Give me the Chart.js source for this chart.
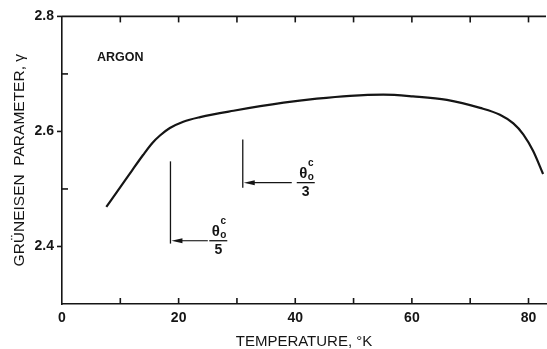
<!DOCTYPE html>
<html>
<head>
<meta charset="utf-8">
<script src="https://cdn.jsdelivr.net/npm/chart.js@4/dist/chart.umd.min.js"></script>
<style>
  html, body { margin: 0; padding: 0; background: #fff; }
  #wrap { width: 547px; height: 349px; }
</style>
</head>
<body>
<div id="wrap"><canvas id="gruneisenChart"></canvas></div>
<script>
// Argon - Grüneisen parameter vs temperature
const temperature = [7.6, 10.0, 12.0, 13.9, 15.5, 16.8, 18.5, 20.8, 23.7, 29.4, 38.0, 43.7, 49.4, 55.1, 60.2, 66.0, 71.7, 75.1, 77.4, 79.1, 80.8, 82.5];
const gamma = [2.469, 2.503, 2.532, 2.559, 2.580, 2.593, 2.606, 2.617, 2.625, 2.636, 2.650, 2.657, 2.662, 2.664, 2.661, 2.655, 2.641, 2.629, 2.614, 2.595, 2.566, 2.526];

const xTickLabels = [0, 20, 40, 60, 80];
const xTickMarks = [10, 20, 30, 40, 50, 60, 70, 80];
const yTickLabels = [2.4, 2.6, 2.8];
const yTickMarksIn = [2.5, 2.7];

// theta_0^c / n markers : temperature of the vertical line, divisor
const thetaMarks = [
    { t: 18.6, n: '5', yTop: 2.548, yBot: 2.405, arrowY: 2.410, arrowTo: 25.0, textX: 26.8 },
    { t: 31.0, n: '3', yTop: 2.586, yBot: 2.502, arrowY: 2.511, arrowTo: 39.4, textX: 41.8 }
];

const ink = '#151515';

const points = temperature.map((t, i) => ({ x: t, y: gamma[i] }));

// ticks pointing inwards, top frame line, and the annotations
const framePlugin = {
    id: 'frame',
    afterDraw(chart) {
        const { ctx, chartArea: a, scales: { x, y } } = chart;
        const seg = (x1, y1, x2, y2) => { ctx.beginPath(); ctx.moveTo(x1, y1); ctx.lineTo(x2, y2); ctx.stroke(); };
        ctx.save();
        ctx.strokeStyle = ink;
        ctx.fillStyle = ink;
        ctx.lineWidth = 1.6;

        seg(a.left, a.top, a.right, a.top);

        xTickMarks.forEach(v => {
            const px = x.getPixelForValue(v);
            seg(px, a.top, px, a.top + 6);
            seg(px, a.bottom, px, a.bottom - 6);
        });
        yTickLabels.forEach(v => {
            const py = y.getPixelForValue(v);
            seg(a.left - 5, py, a.left, py);
        });
        yTickMarksIn.forEach(v => {
            const py = y.getPixelForValue(v);
            seg(a.left, py, a.left + 6, py);
        });

        // ARGON label
        ctx.font = 'bold 12.5px "Liberation Sans"';
        ctx.textAlign = 'left';
        ctx.textBaseline = 'middle';
        ctx.fillText('ARGON', x.getPixelForValue(6.0), y.getPixelForValue(2.729));

        thetaMarks.forEach(m => {
            const lx = x.getPixelForValue(m.t);
            ctx.lineWidth = 1.3;
            seg(lx, y.getPixelForValue(m.yTop), lx, y.getPixelForValue(m.yBot));
            const ay = y.getPixelForValue(m.arrowY);
            const ax2 = x.getPixelForValue(m.arrowTo);
            ctx.lineWidth = 1.1;
            seg(lx + 8, ay, ax2, ay);
            ctx.beginPath();
            ctx.moveTo(lx + 1, ay);
            ctx.lineTo(lx + 12, ay - 2.5);
            ctx.lineTo(lx + 12, ay + 2.5);
            ctx.closePath();
            ctx.fill();

            // fraction
            const cx = x.getPixelForValue(m.textX);
            ctx.lineWidth = 1.3;
            seg(cx - 9, ay, cx + 9, ay);
            ctx.textAlign = 'center';
            ctx.textBaseline = 'middle';
            ctx.font = 'bold 15px "Liberation Sans"';
            ctx.fillText('θ', cx - 2.5, ay - 9);
            ctx.font = 'bold 10px "Liberation Sans"';
            ctx.fillText('c', cx + 5, ay - 19);
            ctx.fillText('o', cx + 5, ay - 5);
            ctx.font = 'bold 14px "Liberation Sans"';
            ctx.fillText(m.n, cx, ay + 9.5);
        });
        ctx.restore();
    }
};

const ctxG = document.getElementById('gruneisenChart').getContext('2d');
const gruneisenChart = new Chart(ctxG, {
    type: 'scatter',
    data: {
        datasets: [{
            label: 'Argon',
            data: points,
            showLine: true,
            borderColor: ink,
            borderWidth: 2.2,
            pointRadius: 0,
            cubicInterpolationMode: 'monotone',
            fill: false
        }]
    },
    options: {
        responsive: true,
        maintainAspectRatio: false,
        animation: false,
        events: [],
        layout: { padding: { top: 14, right: 1, left: 0, bottom: 0 } },
        plugins: { legend: { display: false }, tooltip: { enabled: false } },
        scales: {
            x: {
                type: 'linear',
                min: 0,
                max: 83,
                afterBuildTicks: s => { s.ticks = xTickLabels.map(v => ({ value: v })); },
                afterFit: s => { s.height = 45; },
                grid: { drawOnChartArea: false, drawTicks: false },
                border: { display: true, color: ink, width: 1.6 },
                ticks: {
                    padding: 6,
                    color: ink,
                    maxRotation: 0,
                    font: { family: '"Liberation Sans"', size: 14, weight: 'bold' }
                },
                title: {
                    display: true,
                    text: 'TEMPERATURE, °K',
                    color: ink,
                    align: 'center',
                    padding: { top: 0, bottom: 0 },
                    font: { family: '"Liberation Sans"', size: 15, lineHeight: 1 }
                }
            },
            y: {
                type: 'linear',
                min: 2.3,
                max: 2.8,
                afterBuildTicks: s => { s.ticks = yTickLabels.map(v => ({ value: v })); },
                afterFit: s => { s.width = 62; },
                grid: { drawOnChartArea: false, drawTicks: false },
                border: { display: true, color: ink, width: 1.6 },
                ticks: {
                    padding: 8,
                    color: ink,
                    callback: v => v.toFixed(1),
                    font: { family: '"Liberation Sans"', size: 14, weight: 'bold' }
                },
                title: {
                    display: true,
                    text: 'GRÜNEISEN  PARAMETER, γ',
                    color: ink,
                    padding: { top: 12, bottom: 0 },
                    font: { family: '"Liberation Sans"', size: 15.5, lineHeight: 1 }
                }
            }
        }
    },
    plugins: [framePlugin]
});
</script>
</body>
</html>
